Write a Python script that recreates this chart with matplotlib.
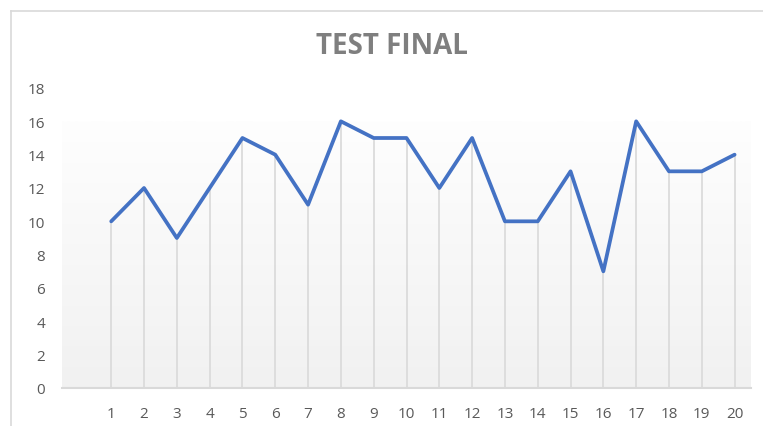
import matplotlib

matplotlib.use("Agg")
import matplotlib.pyplot as plt
import numpy as np
from matplotlib.lines import Line2D

categories = list(range(1, 21))
values = [10, 12, 9, 12, 15, 14, 11, 16, 15, 15, 12, 15, 10, 10, 13, 7, 16, 13, 13, 14]
y_ticks = list(range(0, 19, 2))
title = "TEST FINAL"

plt.rcParams["font.family"] = ["Open Sans", "DejaVu Sans"]

W, H = 763, 427
fig = plt.figure(figsize=(W / 100, H / 100), dpi=100)
fig.patch.set_facecolor("white")

# plot area in pixel coordinates of the reference
left, right, bottom, top = 62, 751, 389, 89
ax = fig.add_axes([left / W, 1 - bottom / H, (right - left) / W, (bottom - top) / H])
ax.set_facecolor("none")

ax.set_xlim(-0.5, len(categories) + 0.5)
ax.set_ylim(0, 18)

# gradient background (white on top -> light gray at bottom)
grad = np.linspace(0, 1, 256).reshape(-1, 1)
ax.imshow(
    grad,
    extent=[-0.5, len(categories) + 0.5, 0, 16],
    aspect="auto",
    cmap=matplotlib.colors.LinearSegmentedColormap.from_list("g", ["#f1f1f1", "#fefefe"]),
    origin="lower",
    zorder=0,
)

# drop lines
ax.vlines(categories, 0, values, color="#d9d9d9", lw=1.2, zorder=1)
ax.plot(categories, values, color="#4472C4", lw=2.7, solid_joinstyle="round",
        solid_capstyle="round", zorder=3)

ax.set_xticks(categories)
ax.set_xticklabels([str(c) for c in categories])
ax.set_yticks(y_ticks)
ax.tick_params(axis="both", length=0, labelsize=11, labelcolor="#595959")
ax.tick_params(axis="y", pad=12)
ax.tick_params(axis="x", pad=13)

for s in ["top", "right", "left"]:
    ax.spines[s].set_visible(False)
ax.spines["bottom"].set_color("#d9d9d9")
ax.spines["bottom"].set_linewidth(1.5)

fig.text(392 / W, 1 - 47 / H, title, ha="center", va="center", fontsize=20,
         fontweight="bold", color="#7f7f7f")

# chart border (cropped)
fig.add_artist(Line2D([11 / W, 1], [1 - 12 / H, 1 - 12 / H], color="#d9d9d9", lw=1.2,
                      transform=fig.transFigure))
fig.add_artist(Line2D([11 / W, 11 / W], [1 - 12 / H, 0], color="#d9d9d9", lw=1.2,
                      transform=fig.transFigure))

fig.savefig("out.png", dpi=100)
